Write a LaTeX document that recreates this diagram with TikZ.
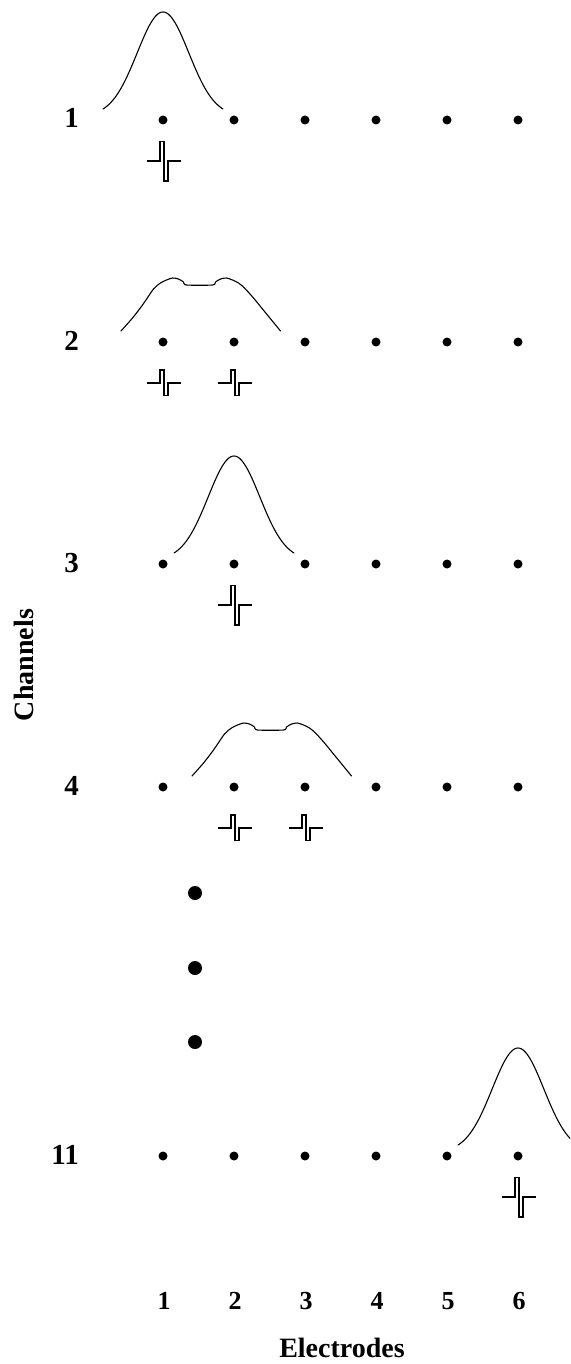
\documentclass[tikz,border=0pt]{standalone}
\usepackage{fontspec}
\setmainfont{Liberation Serif}
\begin{document}
\begin{tikzpicture}[x=1pt,y=-1pt,
  edot/.style={circle,fill=black,inner sep=0pt,minimum size=9pt},
  bigdot/.style={circle,fill=black,inner sep=0pt,minimum size=14pt},
  chlbl/.style={font=\fontsize{29}{29}\selectfont\bfseries,inner sep=0pt,anchor=base east},
  ellbl/.style={font=\fontsize{26}{26}\selectfont\bfseries,inner sep=0pt,anchor=base},
  axlbl/.style={font=\fontsize{28}{28}\selectfont\bfseries,inner sep=0pt,anchor=base},
  curve/.style={line width=1.1pt,line join=round,line cap=round},
  pulse/.style={line width=1.3pt,line join=miter}]
\useasboundingbox (0,0) rectangle (570,1364);
\clip (0,0) rectangle (570,1364);

% electrode dots in each row
\foreach \r/\yy in {1/120,2/342,3/564,4/787,11/1156}{
  \foreach \i in {1,...,6}{
    \node[edot] (d\r-\i) at ({163+71*(\i-1)},\yy) {};
  }
  \node[chlbl] (ch\r) at (79,{\yy+8}) {\r};
}

% ellipsis dots
\node[bigdot] (v1) at (195,893) {};
\node[bigdot] (v2) at (195,968) {};
\node[bigdot] (v3) at (195,1042) {};

% single gaussian curves
\foreach \cx/\yy in {163/120,234/564,518/1156}{
  \draw[curve] plot[domain=-60:60,samples=81] ({\cx+\x},{\yy-4-104*exp(-(\x*\x)/1334)});
}
% right part of channel 11 continues to the edge
\draw[curve] plot[domain=60:70,samples=6] ({518+\x},{1156-4-104*exp(-(\x*\x)/1334)});

% double-hump curves
\foreach \cx/\yy in {198.5/342,269.5/787}{
  \draw[curve] plot[smooth,tension=0.45] coordinates {
    ({\cx-77.5},{\yy-11}) ({\cx-66},{\yy-24}) ({\cx-56},{\yy-37}) ({\cx-45},{\yy-53})
    ({\cx-38},{\yy-59}) ({\cx-32},{\yy-62}) ({\cx-26},{\yy-64}) ({\cx-20},{\yy-63})
    ({\cx-15},{\yy-60}) ({\cx-12},{\yy-57}) ({\cx+14},{\yy-57}) ({\cx+17},{\yy-60})
    ({\cx+22},{\yy-63}) ({\cx+28},{\yy-64}) ({\cx+34},{\yy-62}) ({\cx+40},{\yy-59})
    ({\cx+46},{\yy-54}) ({\cx+55},{\yy-44}) ({\cx+64},{\yy-33}) ({\cx+73},{\yy-22})
    ({\cx+82},{\yy-11})};
}

% large pulses
\foreach \ex/\yy in {163/161,234/605,518/1197}{
  \draw[pulse] ({\ex-16},\yy) -- ({\ex-3},\yy) -- ({\ex-3},{\yy-19.5}) -- ({\ex+1},{\yy-19.5})
    -- ({\ex+1},{\yy+20}) -- ({\ex+5},{\yy+20}) -- ({\ex+5},\yy) -- ({\ex+17.5},\yy);
}
% small pulses
\foreach \ex/\yy in {163/383,234/383,234/828,305/828}{
  \draw[pulse] ({\ex-16},\yy) -- ({\ex-3},\yy) -- ({\ex-3},{\yy-13}) -- ({\ex+1},{\yy-13})
    -- ({\ex+1},{\yy+12.5}) -- ({\ex+5},{\yy+12.5}) -- ({\ex+5},\yy) -- ({\ex+17.5},\yy);
}

% electrode numbers
\foreach \i in {1,...,6}{
  \node[ellbl] (e\i) at ({163+71*(\i-1)+1},1309) {\i};
}
\node[axlbl] (elec) at (342,1357) {Electrodes};
\node[axlbl,rotate=90] (chan) at (33,665) {Channels};
\end{tikzpicture}
\end{document}
